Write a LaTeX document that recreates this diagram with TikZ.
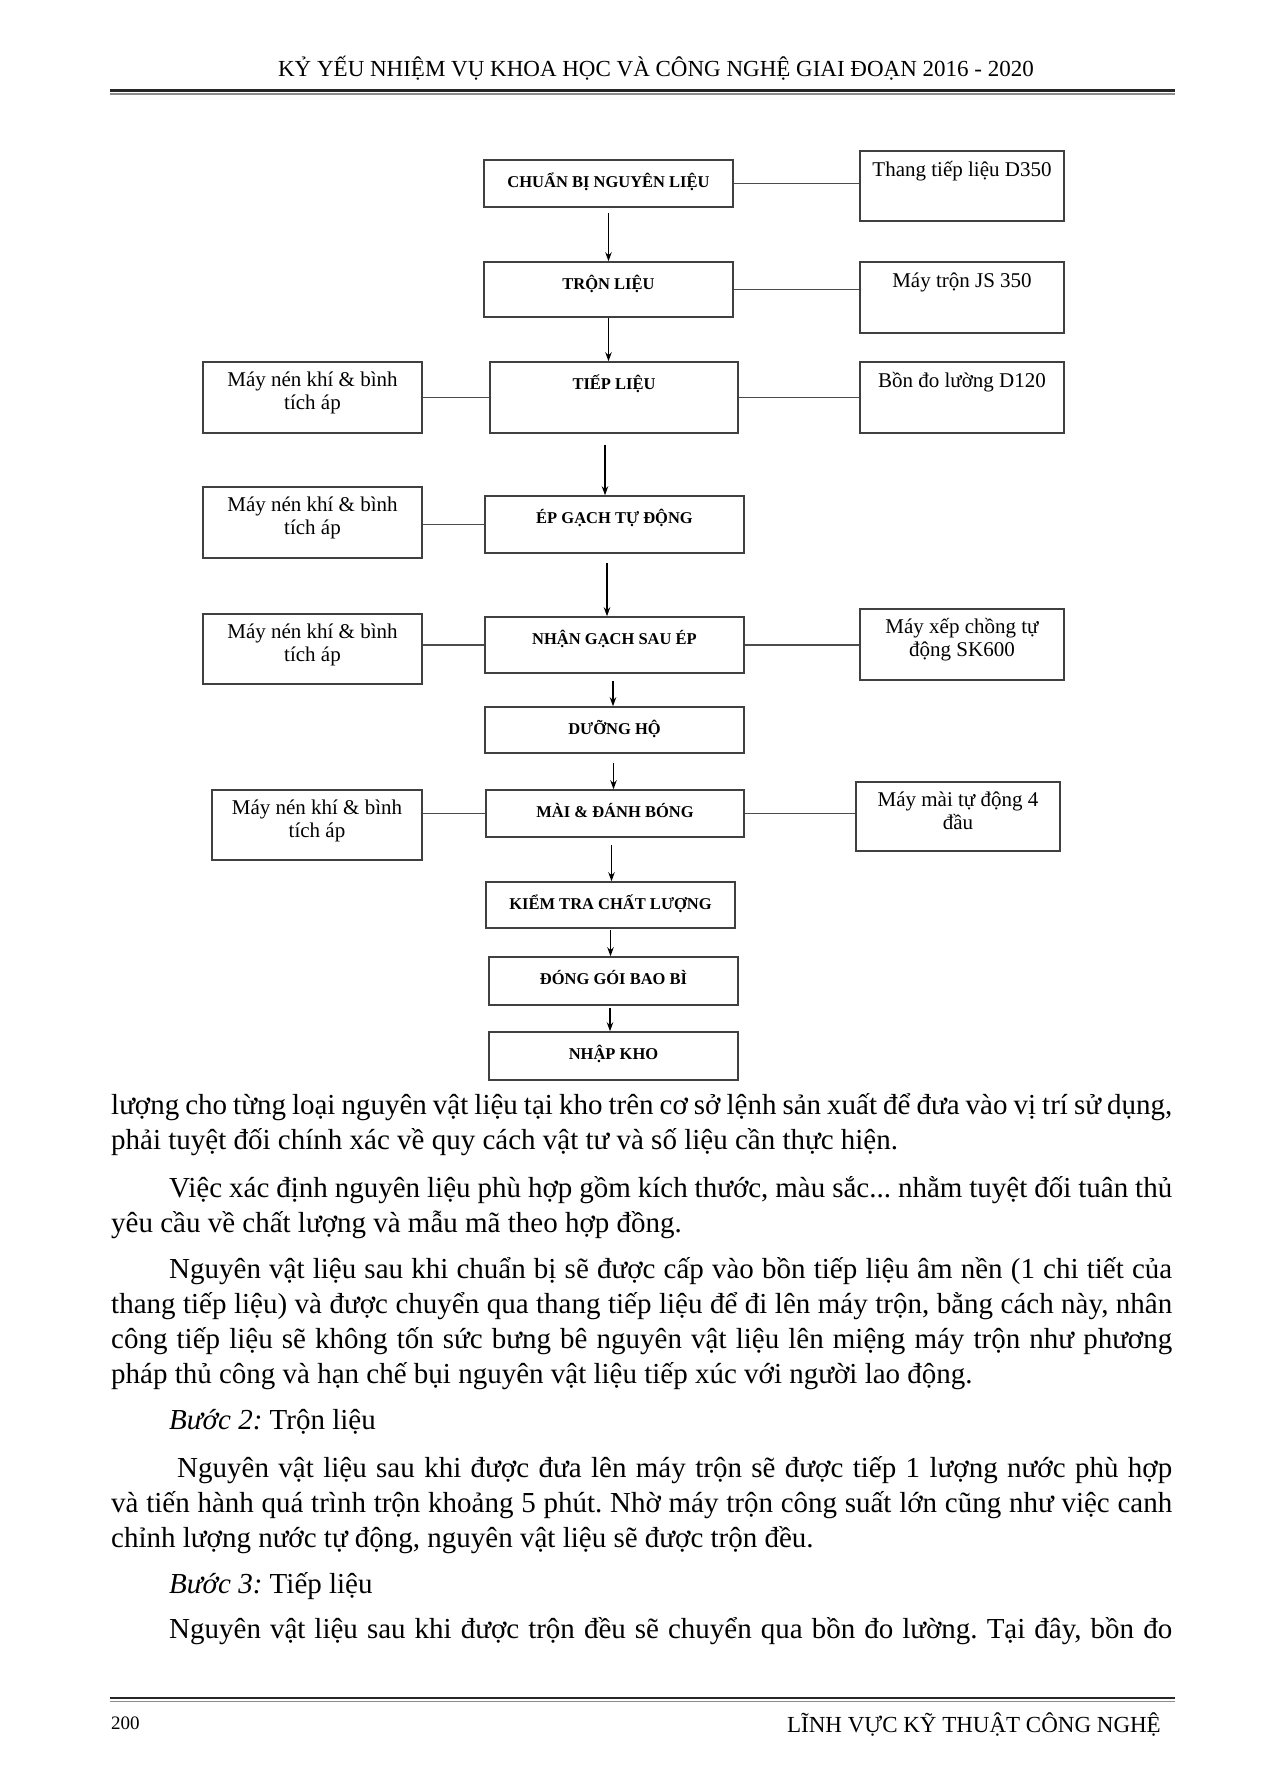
\documentclass[tikz,border=0pt]{standalone}
\usepackage{fontspec}
\setmainfont{Liberation Serif}
\usetikzlibrary{arrows.meta}
\hyphenpenalty=10000
\exhyphenpenalty=10000
\frenchspacing
\tikzstyle{procbox}=[
    draw=black!75,
    line width=1.6pt,
    inner sep=0pt,
]
\tikzstyle{proclabel}=[
    anchor=base,
    yshift=-28pt,
    inner sep=0pt,
    font=\bfseries\fontsize{16.5}{18}\selectfont,
]
\tikzstyle{equiplabel}=[
    anchor=base,
    yshift=-26pt,
    inner sep=0pt,
    align=center,
    font=\fontsize{21}{23}\selectfont,
]
\tikzstyle{twolines}=[yshift=-22pt]
\tikzstyle{flow}=[->, line width=1.2pt]
\tikzstyle{link}=[line width=1.5pt, black!70]
\tikzstyle{bodytext}=[
    anchor=base west,
    inner sep=0pt,
    text width=1061pt,
    align=justify,
    font=\fontsize{29}{35}\selectfont,
]
\tikzstyle{pagetext}=[inner sep=0pt, font=\fontsize{23}{24}\selectfont]

\begin{document}
\begin{tikzpicture}[x=1pt, y=-1pt, >={Stealth[length=9pt,width=6.5pt]}]
    \useasboundingbox[fill=white] (0,0) rectangle (1275,1789);

    % header
    \node[pagetext, anchor=base] (head) at (656,76) {KỶ YẾU NHIỆM VỤ KHOA HỌC VÀ CÔNG NGHỆ GIAI ĐOẠN 2016 - 2020};
    \draw[line width=2.5pt, black!85] (110,90.5) -- (1175,90.5);
    \draw[line width=1.2pt, black!45] (110,94) -- (1175,94);

    % main steps
    \node[procbox, minimum width=249pt, minimum height=47pt, label={[proclabel]north:CHUẨN BỊ NGUYÊN LIỆU}] (prep) at (608.5,183.5) {};
    \node[procbox, minimum width=249pt, minimum height=55pt, label={[proclabel]north:TRỘN LIỆU}] (mix) at (608.5,289.5) {};
    \node[procbox, minimum width=248pt, minimum height=71pt, label={[proclabel]north:TIẾP LIỆU}] (feed) at (614,397.5) {};
    \node[procbox, minimum width=259pt, minimum height=57pt, label={[proclabel]north:ÉP GẠCH TỰ ĐỘNG}] (press) at (614.5,524.5) {};
    \node[procbox, minimum width=259pt, minimum height=56pt, label={[proclabel]north:NHẬN GẠCH SAU ÉP}] (recv) at (614.5,645) {};
    \node[procbox, minimum width=259pt, minimum height=46pt, label={[proclabel]north:DƯỠNG HỘ}] (cure) at (614.5,730) {};
    \node[procbox, minimum width=258pt, minimum height=47pt, label={[proclabel]north:MÀI \& ĐÁNH BÓNG}] (grind) at (615,813.5) {};
    \node[procbox, minimum width=249pt, minimum height=46pt, label={[proclabel]north:KIỂM TRA CHẤT LƯỢNG}] (check) at (610.5,905) {};
    \node[procbox, minimum width=249pt, minimum height=48pt, label={[proclabel]north:ĐÓNG GÓI BAO BÌ}] (pack) at (613.5,981) {};
    \node[procbox, minimum width=249pt, minimum height=48pt, label={[proclabel]north:NHẬP KHO}] (store) at (613.5,1056) {};

    % equipment on the right
    \node[procbox, minimum width=204pt, minimum height=70pt, label={[equiplabel]north:Thang tiếp liệu D350}] (r1) at (962,186) {};
    \node[procbox, minimum width=204pt, minimum height=71pt, label={[equiplabel]north:Máy trộn JS 350}] (r2) at (962,297.5) {};
    \node[procbox, minimum width=204pt, minimum height=71pt, label={[equiplabel]north:Bồn đo lường D120}] (r3) at (962,397.5) {};
    \node[procbox, minimum width=204pt, minimum height=71pt, label={[equiplabel,twolines]north:Máy xếp chồng tự\\động SK600}] (r4) at (962,644.5) {};
    \node[procbox, minimum width=204pt, minimum height=69pt, label={[equiplabel,twolines]north:Máy mài tự động 4\\đầu}] (r5) at (958,816.5) {};

    % compressors on the left
    \node[procbox, minimum width=219pt, minimum height=71pt, label={[equiplabel,twolines]north:Máy nén khí \& bình\\tích áp}] (l1) at (312.5,397.5) {};
    \node[procbox, minimum width=219pt, minimum height=71pt, label={[equiplabel,twolines]north:Máy nén khí \& bình\\tích áp}] (l2) at (312.5,522.5) {};
    \node[procbox, minimum width=219pt, minimum height=70pt, label={[equiplabel,twolines]north:Máy nén khí \& bình\\tích áp}] (l3) at (312.5,649) {};
    \node[procbox, minimum width=210pt, minimum height=70pt, label={[equiplabel,twolines]north:Máy nén khí \& bình\\tích áp}] (l4) at (317,825) {};

    % flow
    \draw[flow] ([yshift=-5pt]prep.south) -- (mix.north);
    \draw[flow] (mix.south) -- (mix.south |- feed.north);
    \draw[flow] ([xshift=-9pt,yshift=-11pt]feed.south) -- ([xshift=-9pt]feed.south |- press.north);
    \draw[flow] ([xshift=-7.5pt,yshift=-9pt]press.south) -- ([xshift=-7.5pt]press.south |- recv.north);
    \draw[flow] ([xshift=-1.5pt,yshift=-7pt]recv.south) -- ([xshift=-1.5pt]recv.south |- cure.north);
    \draw[flow] ([xshift=-1pt,yshift=-9pt]cure.south) -- ([xshift=-1pt]cure.south |- grind.north);
    \draw[flow] ([xshift=-3.5pt,yshift=-7pt]grind.south) -- ([xshift=-3.5pt]grind.south |- check.north);
    \draw[flow] ([yshift=-1pt]check.south) -- (check.south |- pack.north);
    \draw[flow] ([xshift=-3.5pt,yshift=-2pt]pack.south) -- ([xshift=-3.5pt]pack.south |- store.north);

    % machines
    \draw[link] (prep.east) -- (prep.east -| r1.west);
    \draw[link] (mix.east) -- (mix.east -| r2.west);
    \draw[link] (feed.east) -- (feed.east -| r3.west);
    \draw[link] (recv.east) -- (recv.east -| r4.west);
    \draw[link] (grind.east) -- (grind.east -| r5.west);
    \draw[link] (l1.east |- feed.west) -- (feed.west);
    \draw[link] (l2.east |- press.west) -- (press.west);
    \draw[link] (l3.east |- recv.west) -- (recv.west);
    \draw[link] (l4.east |- grind.west) -- (grind.west);

    % body text
    \node[bodytext] (para1) at (111,1114) {lượng cho từng loại nguyên vật liệu tại kho trên cơ sở lệnh sản xuất để đưa vào vị trí sử dụng,\linebreak phải tuyệt đối chính xác về quy cách vật tư và số liệu cần thực hiện.};
    \node[bodytext] (para2) at (111,1197) {\hspace*{58pt}Việc xác định nguyên liệu phù hợp gồm kích thước, màu sắc... nhằm tuyệt đối tuân thủ\linebreak yêu cầu về chất lượng và mẫu mã theo hợp đồng.};
    \node[bodytext] (para3) at (111,1278) {\hspace*{58pt}Nguyên vật liệu sau khi chuẩn bị sẽ được cấp vào bồn tiếp liệu âm nền (1 chi tiết của\linebreak thang tiếp liệu) và được chuyển qua thang tiếp liệu để đi lên máy trộn, bằng cách này, nhân\linebreak công tiếp liệu sẽ không tốn sức bưng bê nguyên vật liệu lên miệng máy trộn như phương\linebreak pháp thủ công và hạn chế bụi nguyên vật liệu tiếp xúc với người lao động.};
    \node[bodytext] (step2) at (111,1429) {\hspace*{58pt}\textit{Bước 2:} Trộn liệu};
    \node[bodytext] (para4) at (111,1477) {\hspace*{66pt}Nguyên vật liệu sau khi được đưa lên máy trộn sẽ được tiếp 1 lượng nước phù hợp\linebreak và tiến hành quá trình trộn khoảng 5 phút. Nhờ máy trộn công suất lớn cũng như việc canh\linebreak chỉnh lượng nước tự động, nguyên vật liệu sẽ được trộn đều.};
    \node[bodytext] (step3) at (111,1593) {\hspace*{58pt}\textit{Bước 3:} Tiếp liệu};
    \node[bodytext] (para5) at (111,1638) {\hspace*{58pt}Nguyên vật liệu sau khi được trộn đều sẽ chuyển qua bồn đo lường. Tại đây, bồn đo\linebreak};

    % footer
    \draw[line width=2.5pt, black!85] (110,1698) -- (1175,1698);
    \draw[line width=1.5pt, black!45] (110,1701.5) -- (1175,1701.5);
    \node[pagetext, anchor=base west, font=\fontsize{19}{20}\selectfont] (page) at (111,1729) {200};
    \node[pagetext, anchor=base east] (foot) at (1161,1732) {LĨNH VỰC KỸ THUẬT CÔNG NGHỆ};
\end{tikzpicture}
\end{document}
